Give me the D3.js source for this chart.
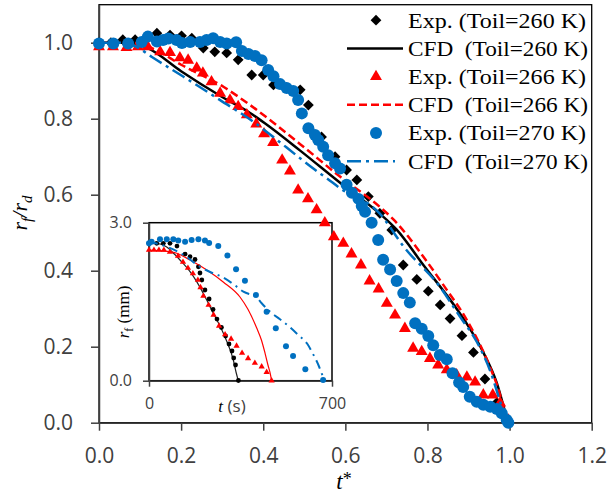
<!DOCTYPE html>
<html>
<head>
<meta charset="utf-8">
<script src="https://cdn.jsdelivr.net/npm/d3@7"></script>
<style>
  body { margin: 0; background: #fff; }
  svg text { font-family: "Open Sans", sans-serif; }
  .serif { font-family: "Times New Roman", "Liberation Serif", serif; }
</style>
</head>
<body>
<svg id="chart" width="608" height="499"></svg>
<script>
// ---------- data (t*, rf/rd) main plot ----------
const exp260 = [[0,1.0],[0.029,1.0],[0.058,1.008],[0.088,1.008],[0.115,1.01],[0.141,1.025],[0.173,1.02],[0.201,1.018],
  [0.226,1.012],[0.254,0.986],[0.282,0.976],[0.311,0.973],[0.339,0.955],[0.372,0.915],[0.4,0.915],[0.425,0.889],
  [0.457,0.882],[0.49,0.876],[0.51,0.836],[0.542,0.752],[0.575,0.7],[0.603,0.665],[0.628,0.639],[0.656,0.595],
  [0.684,0.551],[0.713,0.507],[0.741,0.415],[0.774,0.377],[0.802,0.346],[0.831,0.31],[0.855,0.274],[0.884,0.229],
  [0.912,0.185],[0.94,0.115],[0.969,0.053],[0.993,0.003]];
const cfd260 = [[0,1],[0.075,1],[0.12,0.985],[0.2,0.925],[0.3,0.857],[0.368,0.815],[0.404,0.788],[0.49,0.716],
  [0.591,0.628],[0.684,0.55],[0.725,0.508],[0.79,0.415],[0.871,0.3],[0.896,0.26],[0.936,0.185],[0.969,0.104],
  [0.993,0.012],[0.996,0]];
const exp266 = [[0,0.989],[0.034,0.989],[0.067,0.987],[0.095,0.989],[0.119,0.989],[0.149,0.976],[0.173,0.974],
  [0.197,0.96],[0.217,0.954],[0.238,0.933],[0.253,0.92],[0.274,0.897],[0.295,0.867],[0.319,0.849],[0.339,0.832],
  [0.36,0.81],[0.383,0.786],[0.402,0.76],[0.424,0.737],[0.446,0.691],[0.465,0.662],[0.485,0.612],[0.509,0.589],
  [0.53,0.56],[0.55,0.526],[0.572,0.489],[0.595,0.472],[0.615,0.444],[0.638,0.415],[0.659,0.373],[0.681,0.352],
  [0.701,0.314],[0.721,0.283],[0.745,0.248],[0.765,0.196],[0.786,0.187],[0.806,0.169],[0.826,0.152],[0.847,0.139],
  [0.871,0.126],[0.896,0.12],[0.916,0.107],[0.936,0.073],[0.959,0.073],[0.977,0.052],[0.997,0.007]];
const cfd266 = [[0,1],[0.08,1],[0.13,0.985],[0.2,0.942],[0.303,0.884],[0.368,0.836],[0.49,0.733],[0.59,0.645],
  [0.684,0.568],[0.717,0.535],[0.798,0.425],[0.839,0.362],[0.896,0.27],[0.952,0.147],[0.975,0.08],[0.993,0.002]];
const exp270 = [[0,0.998],[0.035,0.998],[0.071,0.998],[0.104,1.002],[0.119,1.016],[0.141,1.003],[0.156,1.007],
  [0.169,1.011],[0.189,1.007],[0.202,0.999],[0.222,1.002],[0.246,1.002],[0.262,1.007],[0.278,1.012],[0.295,1.002],
  [0.311,0.998],[0.334,1.001],[0.348,0.978],[0.364,0.97],[0.38,0.965],[0.396,0.954],[0.412,0.928],[0.425,0.912],
  [0.441,0.891],[0.457,0.881],[0.473,0.873],[0.485,0.849],[0.494,0.814],[0.51,0.775],[0.526,0.757],[0.534,0.744],
  [0.546,0.726],[0.558,0.704],[0.575,0.683],[0.587,0.669],[0.603,0.626],[0.616,0.605],[0.632,0.589],[0.64,0.57],
  [0.648,0.555],[0.664,0.526],[0.68,0.481],[0.692,0.429],[0.709,0.403],[0.725,0.373],[0.741,0.341],[0.757,0.316],
  [0.77,0.262],[0.786,0.247],[0.802,0.228],[0.814,0.204],[0.83,0.178],[0.847,0.167],[0.861,0.13],[0.877,0.106],
  [0.887,0.094],[0.903,0.068],[0.92,0.055],[0.936,0.047],[0.953,0.042],[0.969,0.036],[0.981,0.025],[0.993,0.007],
  [0.997,0]];
const cfd270 = [[0,1],[0.05,1],[0.09,0.99],[0.128,0.963],[0.205,0.911],[0.295,0.849],[0.376,0.792],[0.429,0.748],
  [0.485,0.7],[0.522,0.669],[0.555,0.643],[0.587,0.617],[0.684,0.55],[0.743,0.462],[0.83,0.358],[0.879,0.279],
  [0.92,0.213],[0.955,0.13],[0.98,0.045],[0.995,0]];

// ---------- inset data (t in s, rf in mm) ----------
const insExp260 = [[0,2.614],[29.5,2.609],[54.7,2.609],[80.3,2.609],[107,2.557],[138,2.405],[157,2.354],[176,2.301],
  [189,2.164],[195,2.045],[202,1.912],[214,1.722],[230,1.551],[245,1.352],[260,1.171],[277,1.01],[293,0.849],
  [306,0.697],[317.5,0.564],[324,0.431],[331,0.298],[342,0.004]];
const insCfd260 = [[0,2.614],[42,2.595],[67.7,2.538],[93,2.425],[118.6,2.292],[157,2.07],[182.5,1.88],[220.7,1.532],
  [246,1.28],[271.6,1.039],[297,0.754],[322.5,0.393],[332.8,0.165],[341.6,0]];
const insExp266 = [[0,2.481],[19,2.481],[38,2.481],[57,2.481],[80,2.443],[111,2.367],[130,2.253],[149,2.139],
  [168,2.035],[187,1.912],[197,1.77],[208,1.608],[228,1.437],[247,1.248],[268,1.039],[291,0.877],[314,0.792],
  [335,0.659],[356,0.526],[379,0.425],[405,0.336],[431,0.266],[450,0.161],[469,0]];
const insCfd266 = [[0,2.481],[61,2.462],[106,2.419],[157,2.292],[221,2.102],[284,1.874],[348,1.589],[379,1.352],
  [412,1.0],[430,0.773],[444,0.52],[455,0.298],[465,0.108],[469,0]];
const insExp270 = [[0,2.61],[10,2.64],[42,2.685],[68,2.685],[93,2.685],[112,2.66],[138,2.64],[163,2.67],[189,2.685],
  [214,2.66],[230,2.615],[265,2.557],[300,2.377],[333,2.115],[367,1.9],[409,1.627],[450,1.31],[485,0.995],
  [524,0.653],[551,0.469],[598,0.218],[666,0.013]];
const insCfd270 = [[0,2.64],[61,2.557],[138,2.37],[195,2.164],[240,2.05],[278,1.975],[322,1.836],[361,1.69],
  [412,1.58],[431,1.47],[463,1.31],[501,1.166],[537,1.025],[571,0.868],[606,0.697],[626,0.52],[648,0.298],
  [669,0.027],[671,0]];

const xTicks = [0, 0.2, 0.4, 0.6, 0.8, 1.0, 1.2];
const yTicks = [0, 0.2, 0.4, 0.6, 0.8, 1.0];
const insXTicks = [0, 700];
const insYTicks = [0, 3.0];
const legendLabels = ['Exp. (Toil=260 K)', 'CFD  (Toil=260 K)', 'Exp. (Toil=266 K)',
                      'CFD  (Toil=266 K)', 'Exp. (Toil=270 K)', 'CFD  (Toil=270 K)'];

const BLUE = '#0070C0', RED = '#FF0000', AXIS = '#404040';

const svg = d3.select('#chart');

//=================== main scales / axes ===================
const x = d3.scaleLinear().domain([0, 1.2]).range([99, 591.7]);
const y = d3.scaleLinear().domain([0, 1.1]).range([422.7, 4.7]);

svg.append('rect')
    .attr('x', x(0)).attr('y', y(1.1))
    .attr('width', x(1.2) - x(0)).attr('height', y(0) - y(1.1))
    .attr('fill', 'none').attr('stroke', '#000').attr('stroke-width', 1.3);

function styleAxis(g, size) {
  g.attr('font-family', '"Open Sans", sans-serif').attr('font-size', size);
  g.selectAll('text').attr('fill', AXIS);
  g.selectAll('line, path').attr('stroke', AXIS).attr('stroke-width', 1.5);
}

svg.append('g')
    .attr('transform', `translate(0,${y(0)})`)
    .call(d3.axisBottom(x).tickValues(xTicks).tickSize(8).tickSizeOuter(0)
            .tickPadding(17).tickFormat(d3.format('.1f')))
    .call(g => styleAxis(g, 21));

svg.append('g')
    .attr('transform', `translate(${x(0)},0)`)
    .call(d3.axisLeft(y).tickValues(yTicks).tickSize(8).tickSizeOuter(0)
            .tickPadding(18).tickFormat(d3.format('.1f')))
    .call(g => styleAxis(g, 21));

// axis titles
const xt = svg.append('text').attr('class', 'serif')
    .attr('x', 344).attr('y', 489).attr('text-anchor', 'middle')
    .attr('font-size', 23).attr('fill', '#000');
xt.append('tspan').attr('font-style', 'italic').text('t');
xt.append('tspan').attr('font-size', 18).attr('dy', -4).text('*');

const yt = svg.append('text').attr('class', 'serif')
    .attr('transform', 'translate(27,213) rotate(-90)')
    .attr('text-anchor', 'middle').attr('font-size', 22).attr('font-style', 'italic');
yt.append('tspan').text('r');
yt.append('tspan').attr('font-size', 15).attr('dy', 5).text('f');
yt.append('tspan').attr('dy', -5).text('/r');
yt.append('tspan').attr('font-size', 15).attr('dy', 5).text('d');

//=================== inset ===================
const xi = d3.scaleLinear().domain([0, 700]).range([149, 332]);
const yi = d3.scaleLinear().domain([0, 3]).range([380.7, 222.7]);
const inset = svg.append('g');

inset.append('rect')
    .attr('x', xi(0)).attr('y', yi(3))
    .attr('width', xi(700) - xi(0)).attr('height', yi(0) - yi(3))
    .attr('fill', '#fff').attr('stroke', '#000').attr('stroke-width', 1.5);

inset.append('g')
    .attr('transform', `translate(0,${yi(0)})`)
    .call(d3.axisBottom(xi).tickValues(insXTicks).tickSize(6).tickSizeOuter(0)
            .tickPadding(11).tickFormat(d3.format('d')))
    .call(g => styleAxis(g, 16));
inset.append('g')
    .attr('transform', `translate(${xi(0)},0)`)
    .call(d3.axisLeft(yi).tickValues(insYTicks).tickSize(6).tickSizeOuter(0)
            .tickPadding(11).tickFormat(d3.format('.1f')))
    .call(g => styleAxis(g, 16));

const it = inset.append('text').attr('x', 232).attr('y', 412)
    .attr('text-anchor', 'middle').attr('font-size', 17).attr('fill', AXIS);
it.append('tspan').attr('class', 'serif').attr('font-style', 'italic').attr('fill', '#000').text('t');
it.append('tspan').text(' (s)');

const iy = inset.append('text').attr('class', 'serif')
    .attr('transform', 'translate(129,312) rotate(-90)')
    .attr('text-anchor', 'middle').attr('font-size', 17);
iy.append('tspan').attr('font-style', 'italic').text('r');
iy.append('tspan').attr('font-size', 12).attr('dy', 4).text('f');
iy.append('tspan').attr('dy', -4).text(' (mm)');

const iline = d3.line().x(d => xi(d[0])).y(d => yi(d[1])).curve(d3.curveMonotoneX);

inset.append('path').datum(insCfd260).attr('d', iline)
    .attr('fill', 'none').attr('stroke', '#222').attr('stroke-width', 1.2);
inset.selectAll('circle.i260').data(insExp260).join('circle').attr('class', 'i260')
    .attr('cx', d => xi(d[0])).attr('cy', d => yi(d[1])).attr('r', 2.4).attr('fill', '#000');
inset.append('path').datum(insCfd266).attr('d', iline)
    .attr('fill', 'none').attr('stroke', RED).attr('stroke-width', 1.2);
inset.selectAll('path.i266').data(insExp266).join('path').attr('class', 'i266')
    .attr('d', d3.symbol().type(d3.symbolTriangle).size(17))
    .attr('transform', d => `translate(${xi(d[0])},${yi(d[1])})`).attr('fill', RED);
inset.selectAll('circle.i270').data(insExp270).join('circle').attr('class', 'i270')
    .attr('cx', d => xi(d[0])).attr('cy', d => yi(d[1])).attr('r', 3).attr('fill', BLUE);
inset.append('path').datum(insCfd270).attr('d', iline)
    .attr('fill', 'none').attr('stroke', BLUE).attr('stroke-width', 2)
    .attr('stroke-dasharray', '9,5,2,5');

//=================== main series ===================
const line = d3.line().x(d => x(d[0])).y(d => y(d[1])).curve(d3.curveMonotoneX);
const diamond = d3.symbol().type(d3.symbolSquare).size(58);
const triangle = d3.symbol().type(d3.symbolTriangle).size(62);

svg.selectAll('path.e260').data(exp260).join('path').attr('class', 'e260')
    .attr('d', diamond)
    .attr('transform', d => `translate(${x(d[0])},${y(d[1])}) rotate(45)`).attr('fill', '#000');
svg.append('path').datum(cfd260).attr('d', line)
    .attr('fill', 'none').attr('stroke', '#000').attr('stroke-width', 2.5);
svg.selectAll('path.e266').data(exp266).join('path').attr('class', 'e266')
    .attr('d', triangle)
    .attr('transform', d => `translate(${x(d[0])},${y(d[1])})`).attr('fill', RED);
svg.append('path').datum(cfd266).attr('d', line)
    .attr('fill', 'none').attr('stroke', RED).attr('stroke-width', 2.5)
    .attr('stroke-dasharray', '8,4');
svg.selectAll('circle.e270').data(exp270).join('circle').attr('class', 'e270')
    .attr('cx', d => x(d[0])).attr('cy', d => y(d[1])).attr('r', 6).attr('fill', BLUE);
svg.append('path').datum(cfd270).attr('d', line)
    .attr('fill', 'none').attr('stroke', BLUE).attr('stroke-width', 2.5)
    .attr('stroke-dasharray', '14,5,3,5');

//=================== legend ===================
const legend = svg.append('g');
legendLabels.forEach((lab, i) => {
  const base = 27.5 + i * 28.2, cy = base - 7.3;
  const g = legend.append('g');
  if (i === 0) g.append('path').attr('d', diamond).attr('transform', `translate(376,${cy}) rotate(45)`).attr('fill', '#000');
  if (i === 2) g.append('path').attr('d', triangle).attr('transform', `translate(376,${cy})`).attr('fill', RED);
  if (i === 4) g.append('circle').attr('cx', 376).attr('cy', cy).attr('r', 6).attr('fill', BLUE);
  if (i === 1) g.append('line').attr('x1', 347).attr('x2', 403).attr('y1', cy).attr('y2', cy)
      .attr('stroke', '#000').attr('stroke-width', 2.5);
  if (i === 3) g.append('line').attr('x1', 347).attr('x2', 403).attr('y1', cy).attr('y2', cy)
      .attr('stroke', RED).attr('stroke-width', 2.5).attr('stroke-dasharray', '8,4');
  if (i === 5) g.append('line').attr('x1', 347).attr('x2', 395).attr('y1', cy).attr('y2', cy)
      .attr('stroke', BLUE).attr('stroke-width', 2.5).attr('stroke-dasharray', '14,5,3,5');
  g.append('text').attr('class', 'serif')
      .attr('x', 408).attr('y', base)
      .attr('font-size', 22).attr('fill', '#000')
      .style('white-space', 'pre')
      .attr('textLength', i % 2 === 0 ? 178 : 180)
      .attr('lengthAdjust', 'spacingAndGlyphs')
      .text(lab);
});
</script>
</body>
</html>
